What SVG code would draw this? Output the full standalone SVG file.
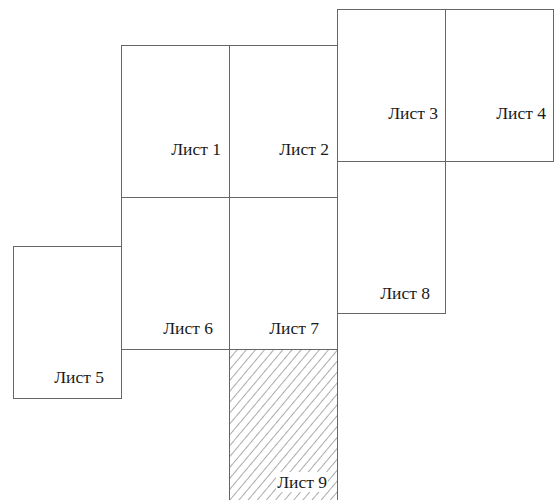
<svg xmlns="http://www.w3.org/2000/svg" width="558" height="500" viewBox="0 0 558 500">
<style>
.sheet{fill:none;stroke:#666;stroke-width:1}
.lbl{font-family:"Liberation Serif","Times New Roman",serif;font-size:17.5px;fill:#1a1a1a;text-anchor:end}
</style>
<defs>
<pattern id="hatch" patternUnits="userSpaceOnUse" width="7" height="7" patternTransform="rotate(40)">
<line x1="0" y1="0" x2="0" y2="7" stroke="#444" stroke-width="0.9"/>
</pattern>
</defs>
<rect width="558" height="500" fill="#ffffff"/>
<g id="sheet9">
<rect x="229.5" y="349.5" width="108" height="155" fill="url(#hatch)"/>
<rect x="276" y="472" width="52" height="20" fill="#ffffff"/>
<rect class="sheet" x="229.5" y="349.5" width="108" height="155"/>
<text class="lbl" x="327" y="488">Лист 9</text>
</g>
<g id="sheet1">
<rect class="sheet" x="121.5" y="45.5" width="108" height="152"/>
<text class="lbl" x="221" y="155">Лист 1</text>
</g>
<g id="sheet2">
<rect class="sheet" x="229.5" y="45.5" width="108" height="152"/>
<text class="lbl" x="329" y="155">Лист 2</text>
</g>
<g id="sheet3">
<rect class="sheet" x="337.5" y="9.5" width="108" height="152"/>
<text class="lbl" x="438" y="119">Лист 3</text>
</g>
<g id="sheet4">
<rect class="sheet" x="445.5" y="9.5" width="108" height="152"/>
<text class="lbl" x="546" y="119">Лист 4</text>
</g>
<g id="sheet8">
<rect class="sheet" x="337.5" y="161.5" width="108" height="152"/>
<text class="lbl" x="430" y="299">Лист 8</text>
</g>
<g id="sheet6">
<rect class="sheet" x="121.5" y="197.5" width="108" height="152"/>
<text class="lbl" x="213" y="334">Лист 6</text>
</g>
<g id="sheet7">
<rect class="sheet" x="229.5" y="197.5" width="108" height="152"/>
<text class="lbl" x="319" y="334">Лист 7</text>
</g>
<g id="sheet5">
<rect class="sheet" x="13.5" y="246.5" width="108" height="152"/>
<text class="lbl" x="104" y="383">Лист 5</text>
</g>
<g id="connectors"></g>
</svg>
